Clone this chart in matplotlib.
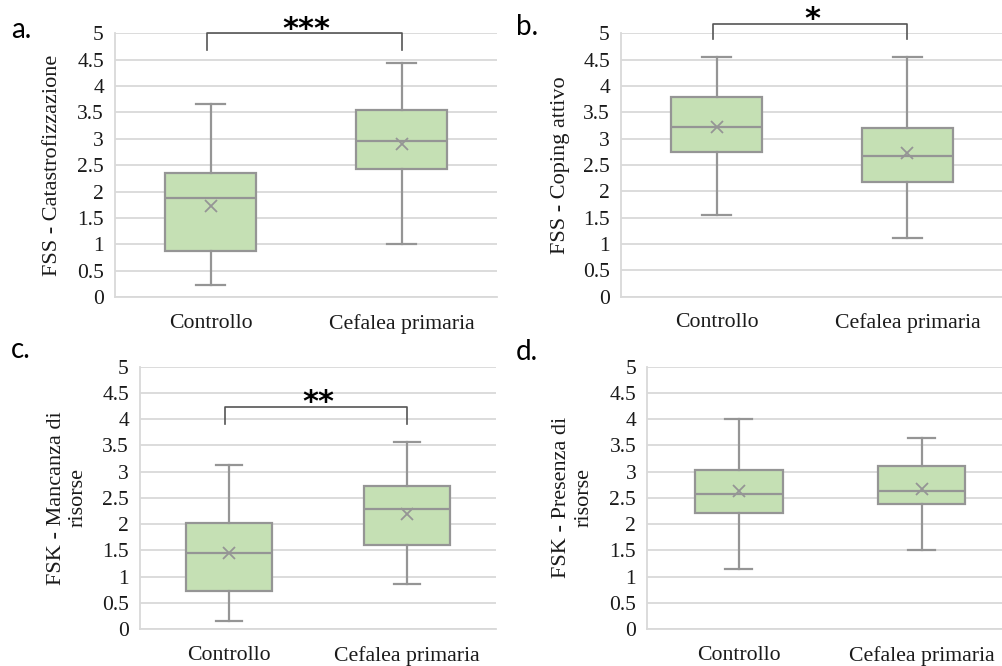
import matplotlib
matplotlib.use("Agg")
import matplotlib.pyplot as plt
from matplotlib.lines import Line2D

categories = ["Controllo", "Cefalea primaria"]

# per panel: [whislo, q1, med, q3, whishi, mean] for each category
fss_cat = [[0.22, 0.88, 1.88, 2.35, 3.66, 1.73],
           [1.00, 2.43, 2.95, 3.55, 4.43, 2.90]]
fss_cop = [[1.56, 2.74, 3.22, 3.79, 4.55, 3.23],
           [1.11, 2.17, 2.67, 3.21, 4.55, 2.72]]
fsk_man = [[0.15, 0.72, 1.44, 2.03, 3.13, 1.45],
           [0.86, 1.61, 2.29, 2.73, 3.57, 2.19]]
fsk_pre = [[1.14, 2.22, 2.57, 3.03, 4.00, 2.64],
           [1.50, 2.39, 2.64, 3.10, 3.64, 2.67]]

ylabels = ["FSS - Catastrofizzazione", "FSS - Coping attivo",
           "FSK - Mancanza di\nrisorse", "FSK - Presenza di\nrisorse"]
letters = ["a.", "b.", "c.", "d."]
stars = ["***", "*", "**", None]
bracket_y = [5.0, 5.18, 4.23, None]
bracket_drop = [0.32, 0.29, 0.32, None]
yticks = [0, 0.5, 1, 1.5, 2, 2.5, 3, 3.5, 4, 4.5, 5]
ytick_labels = ["0", "0.5", "1", "1.5", "2", "2.5", "3", "3.5", "4", "4.5", "5"]

W, H = 1002, 666
fig = plt.figure(figsize=(W / 100, H / 100), dpi=100)

# axes boxes in pixels: left, right, top, bottom
boxes = [(115, 497, 33.3, 297), (621, 1003, 33.3, 296.7),
         (140, 496, 366.7, 629), (647.3, 1013, 366.7, 629)]
letter_pos = [(11, 30), (516, 27), (11, 350), (516, 352)]
ylabel_x = [-0.139, -0.134, -0.146, -0.148]

data = [fss_cat, fss_cop, fsk_man, fsk_pre]
fill = "#C5E0B4"
edge = "#959595"
grid = "#D9D9D9"
serif = "Liberation Serif"

for i, d in enumerate(data):
    l, r, t, b = boxes[i]
    ax = fig.add_axes([l / W, 1 - b / H, (r - l) / W, (b - t) / H])
    stats = []
    for j, s in enumerate(d):
        stats.append(dict(whislo=s[0], q1=s[1], med=s[2], q3=s[3], whishi=s[4],
                          mean=s[5], label=categories[j], fliers=[]))
    ax.bxp(stats, positions=[1, 2], widths=0.48, showmeans=True, patch_artist=True,
           boxprops=dict(facecolor=fill, edgecolor=edge, linewidth=1.6),
           medianprops=dict(color=edge, linewidth=1.6),
           whiskerprops=dict(color=edge, linewidth=1.6),
           capprops=dict(color=edge, linewidth=1.6),
           capwidths=0.15,
           meanprops=dict(marker="x", markeredgecolor=edge, markersize=9,
                          markeredgewidth=1.3, linestyle="none"))
    ax.set_xlim(0.5, 2.5)
    ax.set_ylim(0, 5)
    ax.set_yticks(yticks)
    ax.set_yticklabels(ytick_labels, fontfamily=serif, fontsize=15.5)
    ax.set_xticks([1, 2])
    ax.set_xticklabels(categories, fontfamily=serif, fontsize=15.7)
    ax.tick_params(axis="both", length=0)
    ax.tick_params(axis="y", pad=8, colors="#1a1a1a")
    ax.tick_params(axis="x", pad=12, colors="#1a1a1a")
    ax.grid(axis="y", color=grid, linewidth=1.3)
    ax.set_axisbelow(True)
    for sp in ["top", "right"]:
        ax.spines[sp].set_visible(False)
    for sp in ["left", "bottom"]:
        ax.spines[sp].set_color(grid)
        ax.spines[sp].set_linewidth(1.3)
    ax.set_ylabel(ylabels[i], fontfamily=serif, fontsize=16, color="#1a1a1a",
                  linespacing=1.25)
    ax.yaxis.set_label_coords(ylabel_x[i], 0.5)

    if stars[i] is not None:
        by = bracket_y[i]
        dy = bracket_drop[i]
        ax.add_line(Line2D([0.98, 0.98, 2.0, 2.0], [by - dy, by, by, by - dy],
                           color="#555555", linewidth=1.2, clip_on=False))
        ax.text(1.5, by - 0.08, stars[i], ha="center", va="baseline",
                fontfamily="DejaVu Sans", fontweight="bold", fontsize=22,
                color="black", clip_on=False)

    lx, ly = letter_pos[i]
    fig.text(lx / W, 1 - ly / H, letters[i], ha="left", va="center",
             fontfamily="Lato", fontsize=20, color="black")

fig.savefig("out.png", dpi=100)
